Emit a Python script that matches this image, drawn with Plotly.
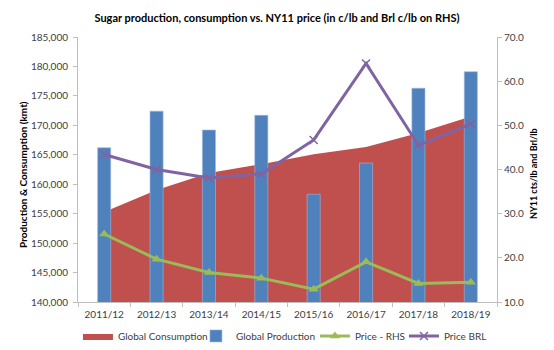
import plotly.graph_objects as go

seasons = ["2011/12", "2012/13", "2013/14", "2014/15", "2015/16", "2016/17", "2017/18", "2018/19"]
global_consumption = [155300, 159000, 161900, 163400, 165100, 166300, 168700, 171500]
global_production = [166200, 172400, 169200, 171700, 158300, 163600, 176300, 179100]
price_rhs = [25.4, 19.7, 16.7, 15.4, 12.9, 19.1, 14.2, 14.5]
price_brl = [43.4, 40.0, 38.1, 39.0, 46.7, 64.0, 45.5, 50.3]

left_ticks = list(range(140000, 185001, 5000))
right_ticks = [10, 20, 30, 40, 50, 60, 70]

FONT = "Lato"
TICK_COLOR = "#404040"
AXIS_COLOR = "#BFBFBF"

fig = go.Figure()

fig.add_trace(go.Scatter(
    x=seasons, y=global_consumption, name="Global Consumption",
    mode="lines", fill="tozeroy", fillcolor="#C0504D",
    line=dict(color="#C0504D", width=0), yaxis="y", legendwidth=73,
))
fig.add_trace(go.Bar(
    x=seasons, y=global_production, name="Global Production",
    marker=dict(color="#4F81BD", line=dict(color="#9DB9DE", width=0.6)),
    width=0.25, yaxis="y2", legendwidth=74,
))
fig.add_trace(go.Scatter(
    x=seasons, y=price_rhs, name="Price - RHS", mode="lines+markers",
    line=dict(color="#9BBB59", width=3),
    marker=dict(symbol="triangle-up", size=9, color="#9BBB59"),
    yaxis="y3", legendwidth=44,
))
fig.add_trace(go.Scatter(
    x=seasons, y=price_brl, name="Price BRL", mode="lines+markers",
    line=dict(color="#8064A2", width=3),
    marker=dict(symbol="x-thin", size=8, color="#8064A2",
                line=dict(color="#8064A2", width=1.5)),
    yaxis="y3", legendwidth=45,
))

left_axis_common = dict(range=[140000, 185000], showgrid=False, zeroline=False)

fig.update_layout(
    width=554, height=350,
    margin=dict(l=78, r=57, t=37, b=48, autoexpand=False),
    paper_bgcolor="white", plot_bgcolor="white",
    font=dict(family=FONT, size=10, color=TICK_COLOR),
    showlegend=True,
    title=dict(
        text="<b>Sugar production, consumption vs. NY11 price (in c/lb and Brl c/lb on RHS)</b>",
        x=0.5, xanchor="center", y=0.948, yanchor="middle",
        font=dict(family=FONT, size=11, color="#000000"),
    ),
    xaxis=dict(
        type="category", range=[-0.5, 7.5], showgrid=False, zeroline=False,
        showline=True, linecolor=AXIS_COLOR, linewidth=1,
        ticks="outside", tickson="boundaries", ticklen=4, tickcolor=AXIS_COLOR,
        ticklabelstandoff=3,
        tickfont=dict(family=FONT, size=10, color=TICK_COLOR),
    ),
    yaxis=dict(
        **left_axis_common,
        tickvals=left_ticks, ticktext=[f"{v:,}" for v in left_ticks],
        showline=True, linecolor=AXIS_COLOR, linewidth=1,
        ticks="outside", ticklen=4, tickcolor=AXIS_COLOR,
        ticklabelstandoff=3,
        tickfont=dict(family=FONT, size=10, color=TICK_COLOR),
    ),
    yaxis2=dict(
        **left_axis_common, overlaying="y", side="left",
        showticklabels=False, showline=False, ticks="",
    ),
    yaxis3=dict(
        range=[10, 70], overlaying="y", side="right",
        tickvals=right_ticks, ticktext=[f"{v:.1f}" for v in right_ticks],
        showgrid=False, zeroline=False,
        showline=True, linecolor=AXIS_COLOR, linewidth=1,
        ticks="outside", ticklen=4, tickcolor=AXIS_COLOR,
        tickfont=dict(family=FONT, size=10, color=TICK_COLOR),
    ),
    legend=dict(
        orientation="h", xref="paper", yref="paper",
        x=-0.0001, xanchor="left", y=-0.128, yanchor="middle",
        font=dict(family=FONT, size=10, color=TICK_COLOR),
        itemwidth=30, bgcolor="rgba(0,0,0,0)", tracegroupgap=0,
        borderwidth=0,
    ),
    annotations=[
        dict(text="<b>Production & Consumption (kmt)</b>", textangle=-90,
             xref="paper", yref="paper", x=-0.131, y=0.48,
             xanchor="center", yanchor="middle", showarrow=False,
             font=dict(family=FONT, size=10, color="#000000")),
        dict(text="<b>NY11 cts/lb and Brl/lb</b>", textangle=-90,
             xref="paper", yref="paper", x=1.086, y=0.483,
             xanchor="center", yanchor="middle", showarrow=False,
             font=dict(family=FONT, size=9, color="#000000")),
    ],
)

fig.write_html("out.html")
